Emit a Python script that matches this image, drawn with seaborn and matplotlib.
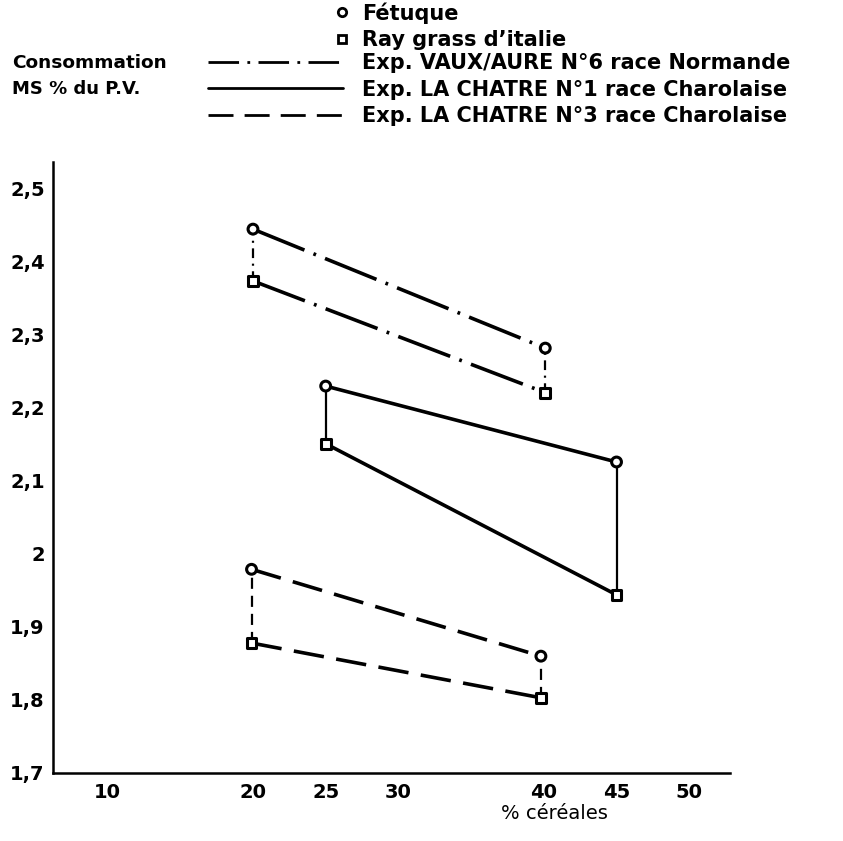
import matplotlib
matplotlib.use("Agg")
import matplotlib.pyplot as plt
import seaborn as sns
import pandas as pd
from matplotlib.lines import Line2D

sns.set_theme(style="white")
plt.rcParams["font.family"] = ["DejaVu Sans"]
plt.rcParams["lines.scale_dashes"] = False
plt.rcParams["text.color"] = "black"

# values
vaux_cereales = [20.0, 40.1]
vaux_fetuque = [2.445, 2.282]
vaux_raygrass = [2.374, 2.221]

lc1_cereales = [25.0, 45.0]
lc1_fetuque = [2.230, 2.126]
lc1_raygrass = [2.151, 1.944]

lc3_cereales = [19.9, 39.8]
lc3_fetuque = [1.979, 1.860]
lc3_raygrass = [1.878, 1.803]

exp_names = ["VAUX", "LC1", "LC3"]
exp_labels = [
    "Exp. VAUX/AURE N°6 race Normande",
    "Exp. LA CHATRE N°1 race Charolaise",
    "Exp. LA CHATRE N°3 race Charolaise",
]
forage_labels = ["Fétuque", "Ray grass d\u2019italie"]

x_ticks = [10, 20, 25, 30, 40, 45, 50]
y_ticks = [1.7, 1.8, 1.9, 2.0, 2.1, 2.2, 2.3, 2.4, 2.5]
y_ticklabels = ["1,7", "1,8", "1,9", "2", "2,1", "2,2", "2,3", "2,4", "2,5"]

rows = []
for exp, xs, fet, ray in zip(
    exp_names,
    [vaux_cereales, lc1_cereales, lc3_cereales],
    [vaux_fetuque, lc1_fetuque, lc3_fetuque],
    [vaux_raygrass, lc1_raygrass, lc3_raygrass],
):
    for x, f, r in zip(xs, fet, ray):
        rows.append({"exp": exp, "forage": "Fétuque", "cereales": x, "ms": f})
        rows.append({"exp": exp, "forage": "Ray grass", "cereales": x, "ms": r})
df = pd.DataFrame(rows)

styles = {
    "VAUX": (0, (40, 7, 2, 7)),
    "LC1": "-",
    "LC3": (0, (22, 9)),
}
connector_styles = {
    "VAUX": (0, (7, 4, 1.5, 4)),
    "LC1": "-",
    "LC3": (0, (8, 5)),
}

fig = plt.figure(figsize=(8.43, 8.41), dpi=100)
ax = fig.add_axes([0.0629, 0.0809, 0.803, 0.7265])

for exp in exp_names:
    sub = df[df["exp"] == exp]
    for forage in ["Fétuque", "Ray grass"]:
        s = sub[sub["forage"] == forage]
        sns.lineplot(
            data=s, x="cereales", y="ms", ax=ax,
            color="black", linewidth=2.6, linestyle=styles[exp],
            estimator=None, sort=True, legend=False,
        )
    piv = sub.pivot(index="cereales", columns="forage", values="ms")
    ax.vlines(
        piv.index, piv["Ray grass"], piv["Fétuque"],
        colors="black", linewidth=1.6, linestyles=connector_styles[exp], zorder=2,
    )

sns.scatterplot(
    data=df, x="cereales", y="ms", style="forage",
    markers={"Fétuque": "o", "Ray grass": "s"},
    color="white", edgecolor="black", linewidth=2.2, s=50,
    legend=False, zorder=4, ax=ax,
)

ax.set_xlim(6.25, 52.8)
ax.set_ylim(1.7, 2.537)
ax.set_xticks(x_ticks)
ax.set_xticklabels([str(t) for t in x_ticks], fontsize=14, fontweight="bold")
ax.set_yticks(y_ticks)
ax.set_yticklabels(y_ticklabels, fontsize=14, fontweight="bold")
ax.tick_params(axis="x", direction="inout", length=9, width=1.5, pad=3, colors="black")
ax.tick_params(axis="y", direction="inout", length=8, width=1.5, pad=2, colors="black")

for side in ["top", "right"]:
    ax.spines[side].set_visible(False)
for side in ["left", "bottom"]:
    ax.spines[side].set_color("black")
    ax.spines[side].set_linewidth(1.8)

ax.set_ylabel("")
ax.set_xlabel("% céréales", fontsize=14, color="black")
ax.xaxis.set_label_coords(0.74, -0.05)

fig.text(12 / 843, 1 - 63 / 841, "Consommation", fontsize=13.3, fontweight="bold",
         va="center", ha="left")
fig.text(12 / 843, 1 - 89 / 841, "MS % du P.V.", fontsize=13, fontweight="bold",
         va="center", ha="left")

marker_handles = [
    Line2D([], [], linestyle="none", marker="o", markersize=6,
           markerfacecolor="white", markeredgecolor="black", markeredgewidth=2),
    Line2D([], [], linestyle="none", marker="s", markersize=6,
           markerfacecolor="white", markeredgecolor="black", markeredgewidth=2),
]
leg1 = ax.legend(
    marker_handles, forage_labels, loc="upper left",
    bbox_to_anchor=(333.7 / 843, 1 - 2 / 841), bbox_transform=fig.transFigure,
    frameon=False, borderpad=0, borderaxespad=0, handlelength=0.8,
    handletextpad=0.56, labelspacing=0.32, prop={"size": 15, "weight": "bold"},
)
ax.add_artist(leg1)

line_handles = [
    Line2D([], [], color="black", linewidth=2, linestyle=(0, (22, 6, 2, 6))),
    Line2D([], [], color="black", linewidth=2, linestyle="-"),
    Line2D([], [], color="black", linewidth=2, linestyle=(0, (18, 8))),
]
ax.legend(
    line_handles, exp_labels, loc="upper left",
    bbox_to_anchor=(208 / 843, 1 - 53 / 841), bbox_transform=fig.transFigure,
    frameon=False, borderpad=0, borderaxespad=0, handlelength=6.49,
    handletextpad=0.91, labelspacing=0.32, prop={"size": 15, "weight": "bold"},
)

fig.savefig("out.png", dpi=100, facecolor="white")
